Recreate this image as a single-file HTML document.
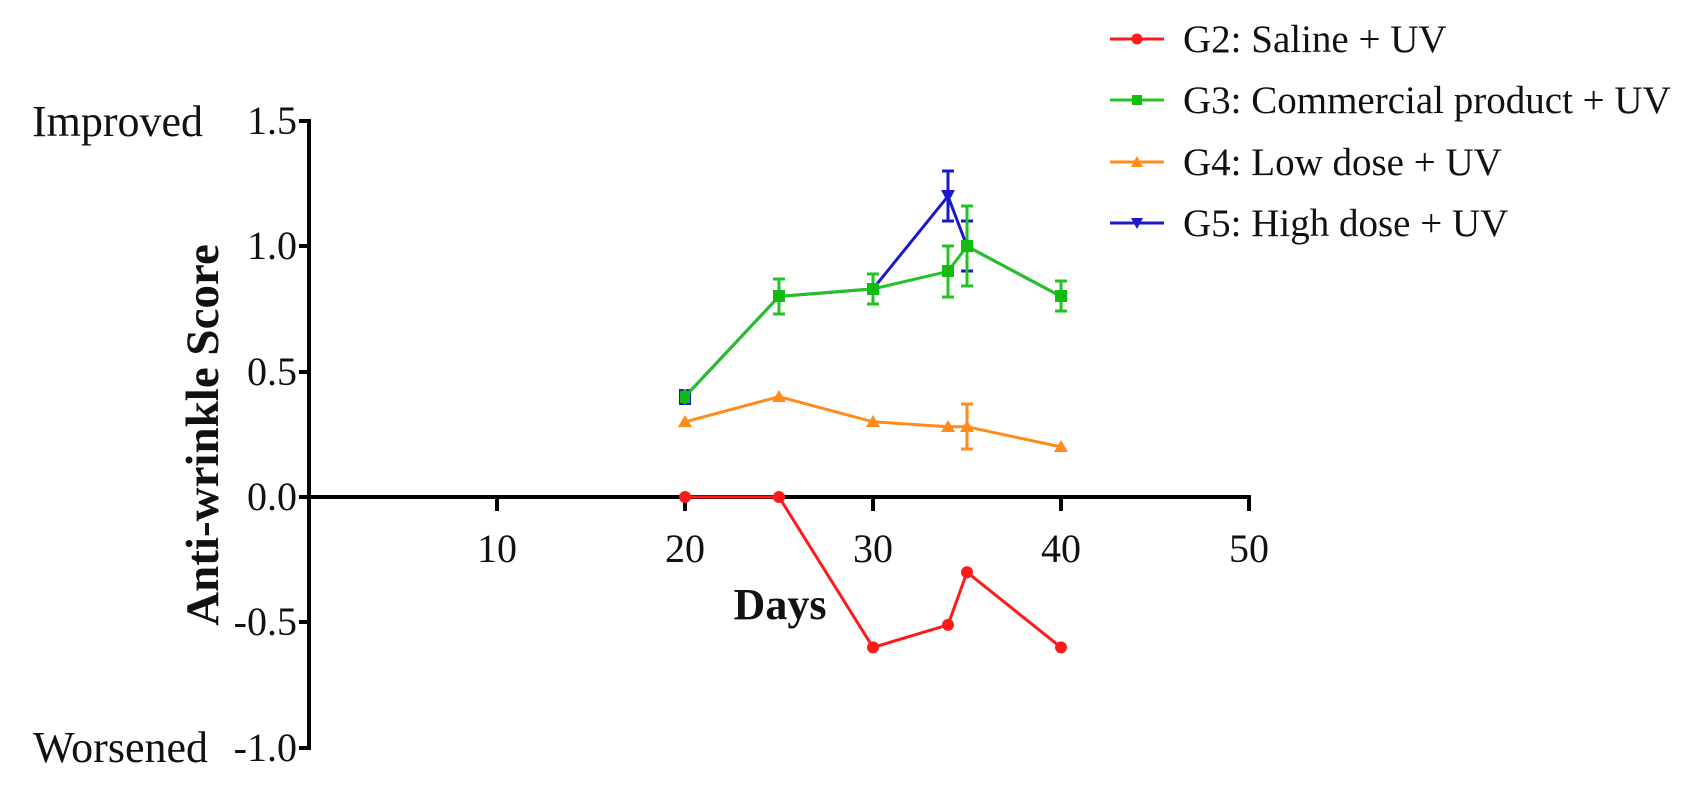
<!DOCTYPE html>
<html><head><meta charset="utf-8"><style>
html,body{margin:0;padding:0;background:#fff;}
svg{display:block;}
text{font-family:"Liberation Serif",serif;fill:#111;}
</style></head><body>
<svg width="1681" height="787" viewBox="0 0 1681 787" xmlns="http://www.w3.org/2000/svg">
<!-- axes -->
<g stroke="#000" stroke-width="4" fill="none">
<line x1="309" y1="119" x2="309" y2="750"/>
<line x1="299" y1="497" x2="1251" y2="497"/>
<line x1="299" y1="121" x2="311" y2="121"/>
<line x1="299" y1="246" x2="311" y2="246"/>
<line x1="299" y1="372" x2="311" y2="372"/>
<line x1="299" y1="622" x2="311" y2="622"/>
<line x1="299" y1="748" x2="311" y2="748"/>
<line x1="497" y1="497" x2="497" y2="511"/>
<line x1="685" y1="497" x2="685" y2="511"/>
<line x1="873" y1="497" x2="873" y2="511"/>
<line x1="1061" y1="497" x2="1061" y2="511"/>
<line x1="1249" y1="497" x2="1249" y2="511"/>
</g>
<g font-size="40" text-anchor="end" fill="#222">
<text x="297" y="134">1.5</text>
<text x="297" y="259">1.0</text>
<text x="297" y="385">0.5</text>
<text x="297" y="510">0.0</text>
<text x="297" y="635">-0.5</text>
<text x="297" y="761">-1.0</text>
</g>
<g font-size="40" text-anchor="middle">
<text x="497" y="562">10</text>
<text x="685" y="562">20</text>
<text x="873" y="562">30</text>
<text x="1061" y="562">40</text>
<text x="1249" y="562">50</text>
</g>
<text x="203" y="136" font-size="44" text-anchor="end">Improved</text>
<text x="208" y="762" font-size="44" text-anchor="end">Worsened</text>
<text x="780" y="619" font-size="44" font-weight="bold" text-anchor="middle">Days</text>
<text transform="translate(218,435) rotate(-90)" font-size="47" font-weight="bold" text-anchor="middle">Anti-wrinkle Score</text>

<!-- G5 blue -->
<g stroke="#1a1acc" stroke-width="3" fill="none">
<polyline points="685,396.7 779,296.4 873,288.9 948,196.2 967,246.3 1061,296.4"/>
<line x1="948" y1="171" x2="948" y2="221"/><line x1="942" y1="171" x2="954" y2="171"/><line x1="942" y1="221" x2="954" y2="221"/>
<line x1="967" y1="221" x2="967" y2="271"/><line x1="961" y1="221" x2="973" y2="221"/><line x1="961" y1="271" x2="973" y2="271"/>
</g>
<g fill="#1a1acc"><polygon points="941,190 955,190 948,203"/><rect x="679" y="389" width="12" height="16"/></g>

<!-- G3 green -->
<g stroke="#22c322" stroke-width="3" fill="none">
<polyline points="685,396.7 779,296.4 873,288.9 948,271.4 967,246.3 1061,296.4"/>
<line x1="685" y1="389" x2="685" y2="404"/>
<line x1="779" y1="279" x2="779" y2="314"/><line x1="773" y1="279" x2="785" y2="279"/><line x1="773" y1="314" x2="785" y2="314"/>
<line x1="873" y1="274" x2="873" y2="304"/><line x1="867" y1="274" x2="879" y2="274"/><line x1="867" y1="304" x2="879" y2="304"/>
<line x1="948" y1="246" x2="948" y2="297"/><line x1="942" y1="246" x2="954" y2="246"/><line x1="942" y1="297" x2="954" y2="297"/>
<line x1="967" y1="206" x2="967" y2="286"/><line x1="961" y1="206" x2="973" y2="206"/><line x1="961" y1="286" x2="973" y2="286"/>
<line x1="1061" y1="281" x2="1061" y2="311"/><line x1="1055" y1="281" x2="1067" y2="281"/><line x1="1055" y1="311" x2="1067" y2="311"/>
</g>
<g fill="#11bb11">
<rect x="680" y="391" width="10" height="12"/>
<rect x="773" y="290" width="12" height="12"/>
<rect x="867" y="283" width="12" height="12"/>
<rect x="942" y="265" width="12" height="12"/>
<rect x="961" y="240" width="12" height="12"/>
<rect x="1055" y="290" width="12" height="12"/>
</g>

<!-- G4 orange -->
<g stroke="#ff8c1a" stroke-width="3" fill="none">
<polyline points="685,421.8 779,396.7 873,421.8 948,426.8 967,426.8 1061,446.9"/>
<line x1="967" y1="404" x2="967" y2="449"/><line x1="961" y1="404" x2="973" y2="404"/><line x1="961" y1="449" x2="973" y2="449"/>
</g>
<g fill="#ff8c1a">
<polygon points="685,415 678,427 692,427"/>
<polygon points="779,390 772,402 786,402"/>
<polygon points="873,415 866,427 880,427"/>
<polygon points="948,420 941,432 955,432"/>
<polygon points="967,420 960,432 974,432"/>
<polygon points="1061,440 1054,452 1068,452"/>
</g>

<!-- G2 red -->
<polyline points="685,497 779,497 873,647.4 948,624.9 967,572.2 1061,647.4" stroke="#ff1a1a" stroke-width="3" fill="none"/>
<g fill="#ff1a1a">
<circle cx="685" cy="497" r="6"/><circle cx="779" cy="497" r="6"/><circle cx="873" cy="647.4" r="6"/>
<circle cx="948" cy="624.9" r="6"/><circle cx="967" cy="572.2" r="6"/><circle cx="1061" cy="647.4" r="6"/>
</g>

<!-- legend -->
<g stroke-width="3">
<line x1="1110" y1="39" x2="1164" y2="39" stroke="#ff1a1a"/>
<line x1="1110" y1="100" x2="1164" y2="100" stroke="#22c322"/>
<line x1="1110" y1="162" x2="1164" y2="162" stroke="#ff8c1a"/>
<line x1="1110" y1="223" x2="1164" y2="223" stroke="#1a1acc"/>
</g>
<circle cx="1137" cy="39" r="5.5" fill="#ff1a1a"/>
<rect x="1132" y="95" width="10" height="10" fill="#11bb11"/>
<polygon points="1137,156 1131,167 1143,167" fill="#ff8c1a"/>
<polygon points="1131,218 1143,218 1137,229" fill="#1a1acc"/>
<g font-size="39">
<text x="1183" y="52">G2: Saline + UV</text>
<text x="1183" y="113">G3: Commercial product + UV</text>
<text x="1183" y="175">G4: Low dose + UV</text>
<text x="1183" y="236">G5: High dose + UV</text>
</g>
</svg>
</body></html>
